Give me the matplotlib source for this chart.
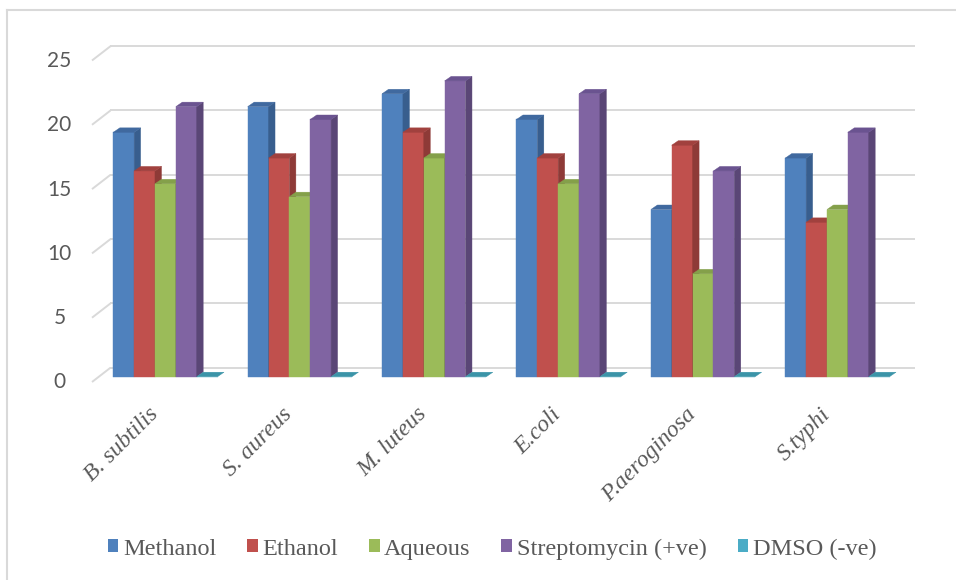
import matplotlib
matplotlib.use("Agg")
import matplotlib.pyplot as plt
from matplotlib.patches import Polygon, Patch
from matplotlib.lines import Line2D

# ---- data -------------------------------------------------------------
categories = ["B. subtilis", "S. aureus", "M. luteus", "E.coli", "P.aeroginosa", "S.typhi"]
methanol = [19, 21, 22, 20, 13, 17]
ethanol = [16, 17, 19, 17, 18, 12]
aqueous = [15, 14, 17, 15, 8, 13]
streptomycin = [21, 20, 23, 22, 16, 19]
dmso = [0, 0, 0, 0, 0, 0]
series_names = ["Methanol", "Ethanol", "Aqueous", "Streptomycin (+ve)", "DMSO (-ve)"]
y_ticks = [0, 5, 10, 15, 20, 25]

# ---- style ------------------------------------------------------------
front_colors = ["#4F81BD", "#C0504D", "#9BBB59", "#8064A2", "#4BACC6"]
side_colors = ["#385E8E", "#8E3A37", "#718B3F", "#5A4676", "#31859C"]
top_colors = ["#40699F", "#A1413E", "#84A04A", "#6A5390", "#3B94A8"]
text_gray = "#595959"
grid_gray = "#D9D9D9"

W, H = 956, 580
fig = plt.figure(figsize=(W / 100, H / 100), dpi=100)
fig.patch.set_facecolor("white")

left_px, right_px = 98.2, 904.6
base_px, top_px = 376.7, 55.2
ax = fig.add_axes([left_px / W, (H - base_px) / H,
                   (right_px - left_px) / W, (base_px - top_px) / H])
ax.set_xlim(-0.5, len(categories) - 0.5)
ax.set_ylim(0, 25)
ax.axis("off")

px_x = (right_px - left_px) / len(categories)
px_y = (base_px - top_px) / 25


def dx(p):
    return p / px_x


def dy(p):
    return p / px_y


# back wall gridlines and the short side-wall diagonals
x0 = -0.5
x1 = len(categories) - 0.5
for v in y_ticks:
    yb = v + dy(9)
    ax.plot([x0 + dx(12.3), x1 + dx(10.4)], [yb, yb], color=grid_gray,
            lw=1.4, zorder=0.5, clip_on=False, solid_capstyle="butt")
    ax.plot([x0 + dx(-6.2), x0 + dx(12.3)], [v - dy(5.3), yb], color=grid_gray,
            lw=1.4, zorder=0.5, clip_on=False, solid_capstyle="butt")
    ax.text(x0 + dx(59.5 - 98.2), v - dy(5.8), str(v), ha="center", va="center",
            family="Lato", fontsize=15, color=text_gray)

# pseudo-3D columns
all_series = [methanol, ethanol, aqueous, streptomycin, dmso]
w = 20.85 / px_x
bdx, bdy = dx(6.5), dy(4.5)
n = len(all_series)
for j, vals in enumerate(all_series):
    xs = [i + (j - n / 2) * w + w / 2 for i in range(len(categories))]
    z = 2 + j * 0.3
    ax.bar(xs, vals, width=w, color=front_colors[j], edgecolor=front_colors[j],
           linewidth=0.3, zorder=z, clip_on=False)
    for xc, v in zip(xs, vals):
        xl, xr = xc - w / 2, xc + w / 2
        if v > 0:
            ax.add_patch(Polygon([(xr, 0), (xr + bdx, bdy), (xr + bdx, v + bdy), (xr, v)],
                                 closed=True, facecolor=side_colors[j],
                                 edgecolor=side_colors[j], lw=0.3, zorder=z + 0.1,
                                 clip_on=False))
        ax.add_patch(Polygon([(xl, v), (xr, v), (xr + bdx, v + bdy), (xl + bdx, v + bdy)],
                             closed=True, facecolor=top_colors[j],
                             edgecolor=top_colors[j], lw=0.3, zorder=z + 0.2,
                             clip_on=False))

# category labels
for i, name in enumerate(categories):
    ax.text(i - dx(3), -dy(27), name, ha="right", va="top", rotation=45,
            family="Liberation Serif", fontstyle="italic", fontsize=17,
            color=text_gray)

# legend
handles = [Patch(facecolor=c, edgecolor="none", label=l)
           for c, l in zip(front_colors, series_names)]
fig.legend(handles=handles, loc="center", bbox_to_anchor=(492 / W, 1 - 549 / H),
           ncol=5, frameon=False,
           prop={"family": "Liberation Serif", "size": 17.5}, labelcolor=text_gray,
           handlelength=0.45, handleheight=0.45, handletextpad=0.18,
           columnspacing=1.27, borderpad=0, borderaxespad=0)

# chart-area border
fig.add_artist(Line2D([7 / W, 7 / W], [0, 1 - 10 / H], transform=fig.transFigure,
                      color=grid_gray, lw=1.5))
fig.add_artist(Line2D([7 / W, 1], [1 - 10 / H, 1 - 10 / H], transform=fig.transFigure,
                      color=grid_gray, lw=1.5))

fig.savefig("out.png", dpi=100)
